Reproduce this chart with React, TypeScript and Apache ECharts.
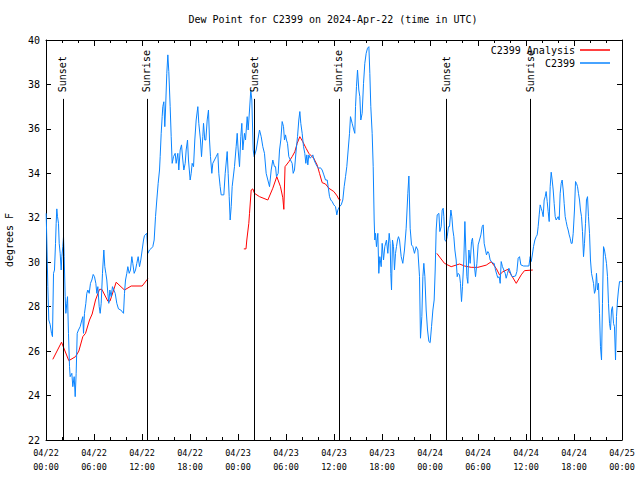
import { useEffect, useRef } from 'react';
import * as echarts from 'echarts';

// hours since 2024-04-22 00:00 UTC, dew point (°F)
const stationC2399: [number, number][] = [
  [0.02,32.2],[0.10,31.0],[0.23,28.9],[0.35,27.4],[0.52,27.2],[0.69,26.8],[0.81,26.65],[0.94,29.5],[1.06,29.65],[1.19,30.85],[1.27,31.75],[1.35,32.4],[1.44,32.05],[1.56,31.75],[1.65,30.85],[1.77,30.4],[1.90,29.65],[1.98,30.25],[2.10,30.7],[2.19,31.15],[2.27,30.25],[2.40,28.45],[2.48,27.7],[2.60,28.15],[2.69,28.45],[2.81,26.8],[2.94,25.3],[3.02,24.85],[3.23,25.0],[3.35,24.4],[3.52,24.85],[3.65,23.95],[3.77,25.0],[3.90,26.8],[4.06,26.95],[4.27,27.1],[4.48,27.4],[4.60,27.55],[4.69,26.8],[4.81,27.7],[4.98,28.15],[5.10,28.6],[5.23,28.75],[5.40,28.6],[5.56,29.05],[5.73,29.2],[5.90,29.45],[6.06,29.35],[6.23,29.05],[6.35,28.6],[6.48,28.9],[6.65,28.0],[6.77,27.7],[6.90,28.15],[7.06,29.5],[7.23,30.55],[7.35,29.8],[7.48,29.5],[7.60,29.2],[7.73,28.6],[7.85,28.15],[7.98,28.75],[8.15,28.45],[8.31,28.9],[8.48,28.75],[8.65,28.6],[8.85,28.15],[9.06,27.9],[9.35,27.85],[9.69,27.7],[9.81,28.6],[9.94,29.2],[10.10,29.5],[10.23,29.8],[10.40,29.5],[10.56,29.65],[10.73,30.25],[10.85,29.95],[11.02,29.5],[11.19,29.65],[11.35,29.95],[11.52,30.25],[11.69,29.8],[11.85,30.1],[12.02,30.55],[12.19,31.0],[12.31,31.2],[12.60,31.3],[12.73,30.4],[12.94,30.55],[13.10,30.6],[13.35,30.7],[13.52,31.0],[13.69,32.05],[13.85,32.8],[14.02,33.55],[14.19,34.15],[14.27,34.75],
  [14.4,35.8],[14.52,36.55],[14.6,37.0],[14.73,37.22],[14.85,36.1],[14.94,36.85],[15.1,38.5],[15.23,39.33],[15.35,38.58],[15.52,37.0],[15.65,35.65],[15.77,34.45],[15.94,34.75],[16.15,34.9],[16.27,34.45],[16.48,34.9],[16.6,34.15],[16.77,35.05],[16.94,35.28],[17.1,34.6],[17.23,34.15],[17.4,34.45],[17.52,35.05],[17.69,35.5],[17.81,34.6],[18.02,33.7],[18.15,34.0],[18.27,34.45],[18.44,34.3],[18.6,35.5],[18.77,36.4],[18.98,37.0],[19.1,36.25],[19.31,35.5],[19.44,34.75],[19.6,35.65],[19.69,36.25],[19.85,35.5],[19.98,35.5],[20.15,36.4],[20.31,36.85],[20.44,35.5],[20.56,34.75],[20.73,34.0],[20.85,34.45],[21.06,34.6],[21.27,34.75],[21.48,34.9],[21.6,34.0],[21.77,33.4],[21.9,33.03],[22.23,33.03],[22.4,34.0],[22.65,34.98],[22.77,34.0],[22.9,32.95],[23.02,31.9],[23.15,32.5],[23.27,33.4],[23.56,34.3],[23.77,35.2],[23.9,35.8],[24.02,35.05],[24.19,34.3],[24.35,35.65],[24.48,36.25],[24.6,35.05],[24.81,35.8],[24.94,35.5],[25.15,36.55],[25.27,35.95],[25.44,36.85],[25.6,37.75],[25.73,37.3],[25.9,35.05],[26.02,34.75],[26.27,35.05],[26.48,35.5],[26.69,35.95],[26.9,35.65],[27.1,35.2],[27.31,34.9],[27.52,34.0],[27.73,33.7],[27.94,33.4],[28.15,34.15],[28.35,34.6],[28.56,34.3],
  [28.69,34.3],[28.81,33.85],[29.02,34.0],[29.19,35.05],[29.35,35.5],[29.52,36.33],[29.69,36.1],[29.81,35.5],[29.94,35.73],[30.06,35.5],[30.19,35.35],[30.35,34.75],[30.56,34.6],[30.77,34.45],[30.9,34.0],[31.06,34.15],[31.27,35.05],[31.44,35.65],[31.6,36.4],[31.73,36.78],[31.85,36.25],[32.02,35.8],[32.19,35.2],[32.35,34.9],[32.48,34.45],[32.6,34.83],[32.73,34.38],[32.85,34.83],[33.02,34.68],[33.19,34.75],[33.35,34.83],[33.52,34.6],[33.69,34.45],[33.9,34.3],[34.1,34.23],[34.31,34.25],[34.52,34.15],[34.73,33.93],[34.94,33.7],[35.15,33.7],[35.27,33.4],[35.44,32.95],[35.6,32.8],[35.77,32.73],[35.98,32.58],[36.19,32.5],[36.35,32.13],[36.48,32.35],[36.69,32.5],[36.9,32.58],[37.1,32.8],[37.27,33.4],[37.44,33.85],[37.6,34.3],[37.77,35.05],[37.94,35.8],[38.06,36.55],[38.27,36.25],[38.48,35.95],[38.6,35.8],[38.69,37.0],[38.81,37.9],[38.94,38.65],[39.1,37.75],[39.23,37.45],[39.35,36.4],[39.52,36.7],[39.69,38.05],[39.85,38.95],[40.02,39.4],[40.19,39.63],[40.36,39.7],[40.48,38.5],[40.6,37.0],[40.77,35.8],[40.9,34.3],[41.02,31.9],[41.1,31.0],[41.19,31.3],[41.31,30.7],[41.48,31.3],[41.6,29.5],[41.73,30.25],[41.9,29.8],[42.02,30.85],[42.19,30.1],[42.35,30.7],[42.56,31.0],[42.73,30.4],[42.9,31.3],[43.02,30.85],[43.1,29.5],[43.19,28.75],[43.31,31.0],[43.44,30.7],[43.56,29.65],[43.69,30.4],[43.81,30.7],[43.94,31.0],[44.06,31.15],
  [44.19,31.0],[44.4,30.25],[44.6,29.95],[44.81,30.55],[45.02,31.53],[45.23,33.1],[45.36,33.88],[45.52,31.53],[45.69,30.78],[45.86,30.7],[46.06,30.4],[46.27,30.7],[46.48,30.55],[46.69,29.35],[46.81,26.58],[46.98,27.55],[47.11,29.35],[47.23,29.95],[47.36,29.35],[47.52,27.85],[47.69,26.95],[47.86,26.43],[48.02,26.38],[48.19,27.1],[48.36,27.85],[48.52,28.3],[48.65,29.65],[48.77,31.45],[48.9,32.13],[49.11,32.2],[49.23,31.38],[49.4,31.6],[49.52,32.35],[49.65,32.43],[49.73,32.05],[49.86,31.0],[50.02,30.93],[50.15,31.15],[50.31,31.6],[50.44,31.6],[50.61,32.35],[50.73,32.05],[50.86,31.45],[50.98,31.15],[51.11,30.55],[51.27,30.1],[51.4,29.35],[51.52,29.5],[51.69,29.43],[51.81,29.05],[51.94,28.23],[52.06,28.9],[52.23,30.1],[52.36,31.83],[52.48,30.55],[52.61,29.35],[52.73,29.05],[52.86,30.55],[53.02,29.95],[53.19,30.93],[53.31,31.08],[53.44,30.55],[53.56,29.8],[53.69,29.35],[53.86,29.95],[54.02,30.78],[54.19,31.0],[54.36,31.23],[54.52,31.6],[54.65,31.68],[54.77,30.85],[54.94,30.55],[55.06,30.33],[55.23,30.48],[55.36,30.4],[55.52,30.1],[55.69,30.03],[55.86,29.95],[56.02,29.95],[56.19,29.65],[56.36,29.43],[56.48,29.3],[56.65,29.35],[56.77,29.05],[56.9,30.03],[57.06,29.8],[57.23,29.65],[57.4,29.5],[57.52,29.28],[57.69,29.5],[57.86,29.73],[58.02,29.58],[58.19,29.38],[58.36,29.35],[58.69,29.38],[58.86,29.58],[59.02,30.18],[59.19,30.25],[59.36,29.88],[59.69,29.83],[60.02,29.83],[60.36,29.83],[60.52,30.25],[60.65,30.03],[60.77,30.28],[60.94,30.7],[61.11,31.0],[61.27,31.15],[61.4,31.23],[61.52,31.6],[61.65,32.13],[61.77,32.58],[61.9,32.43],[62.02,32.28],[62.15,32.05],[62.27,32.8],[62.4,32.95],[62.52,33.18],[62.65,32.73],[62.77,32.28],[62.9,31.83],[63.02,33.4],[63.15,34.05],[63.27,33.7],[63.4,33.25],[63.52,32.65],[63.65,32.05],[63.77,31.9],[64.02,32.05],[64.15,31.9],[64.27,33.1],[64.4,33.55],[64.52,33.7],[64.65,33.25],[64.77,32.65],[64.9,32.05],[65.02,31.83],[65.15,31.6],[65.27,31.45],[65.4,31.23],[65.52,31.08],[65.65,30.85],[65.77,30.85],[65.9,31.3],[66.06,32.35],[66.19,33.63],[66.31,33.55],[66.44,33.4],[66.56,33.1],[66.69,32.8],[66.81,32.35],[66.94,32.05],[67.06,31.38],[67.19,30.25],[67.31,30.85],[67.44,31.75],[67.56,32.8],[67.69,32.95],[67.81,32.05],[67.94,31.3],[68.06,30.1],[68.19,29.5],[68.44,29.05],[68.56,28.6],[68.69,28.75],[68.81,29.5],[68.94,28.75],[69.06,29.05],[69.19,27.7],[69.31,26.2],[69.44,25.6],[69.56,28.15],[69.69,30.7],[69.81,30.55],[69.94,30.25],[70.06,29.95],[70.19,29.35],[70.31,28.15],[70.44,27.25],[70.56,26.95],[70.69,27.85],[70.81,28.0],[70.94,27.25],[71.06,27.1],[71.19,25.6],[71.31,27.55],[71.44,28.3],[71.56,28.75],[71.69,29.13],[71.81,29.13],[72,29.13]
];

const analysisDay1: [number, number][] = [
  [0.85,25.63],[1.94,26.4],[2.85,25.57],[3.69,25.75],[4.1,26.0],[4.6,26.65],[4.94,26.8],[5.44,27.4],[5.77,27.67],[6.19,28.3],[6.69,28.78],[6.98,28.78],[7.73,28.25],[8.0,28.25],[8.77,29.1],[9.81,28.75],[10.65,28.93],[12.02,28.93],[12.73,29.26]
];
const analysisDay2: [number, number][] = [
  [24.73,30.6],[25.0,30.6],[25.1,31.0],[25.35,31.75],[25.44,32.2],[25.65,33.25],[25.85,33.3],[26.06,33.1],[26.69,32.95],[27.73,32.8],[28.35,33.33],[28.85,33.85],[29.31,33.4],[29.6,32.9],[29.73,32.38],[29.88,34.3],[30.35,34.52],[30.77,34.75],[31.1,34.97],[31.4,35.35],[31.73,35.65],[32.1,35.42],[32.52,35.12],[32.85,34.9],[33.48,34.67],[33.9,34.37],[34.19,34.0],[34.52,33.58],[34.94,33.52],[35.35,33.33],[35.98,33.18],[36.4,32.98],[36.6,32.83],[36.85,32.8]
];
const analysisDay3: [number, number][] = [
  [48.85,30.4],[49.81,29.95],[50.65,29.8],[51.69,29.92],[52.31,29.83],[53.15,29.77],[53.98,29.77],[55.03,29.87],[55.65,30.02],[56.28,29.72],[56.69,29.43],[57.1,29.57],[57.73,29.68],[58.15,29.43],[58.78,29.05],[59.4,29.43],[59.81,29.62],[60.85,29.65]
];

const sunHours = [2.1, 12.6, 26.0, 36.6, 50.0, 60.5];
const sunLabels = ['Sunset', 'Sunrise', 'Sunset', 'Sunrise', 'Sunset', 'Sunrise'];

const yTicks = { min: 22, max: 40, interval: 2 };
const xTicks = { min: 0, max: 72, interval: 6 };

const FONT = '"DejaVu Sans Mono", monospace';

function fmtX(v: number): string {
  const day = 22 + Math.floor(v / 24);
  const hr = Math.round(v % 24);
  return `04/${day}\n${String(hr).padStart(2, '0')}:00`;
}

export default function App() {
  const ref = useRef<HTMLDivElement>(null);
  useEffect(() => {
    if (!ref.current) return;
    const chart = echarts.init(ref.current, null, { renderer: 'svg' });
    const analysis: any[] = [
      ...analysisDay1, [18, null], ...analysisDay2, [42, null], ...analysisDay3,
    ];
    const axisCommon = {
      axisLine: { show: true, onZero: false, lineStyle: { color: '#000', width: 1 } },
      splitLine: { show: false },
    };
    chart.setOption({
      animation: false,
      backgroundColor: '#fff',
      title: {
        text: 'Dew Point for C2399 on 2024-Apr-22 (time in UTC)',
        left: 333, top: 14, textAlign: 'center', padding: 0,
        textStyle: { fontFamily: FONT, fontSize: 10, fontWeight: 'normal', color: '#000' },
      },
      legend: {
        orient: 'vertical', right: 30, top: 44, align: 'right', padding: 0,
        icon: 'rect', itemWidth: 30, itemHeight: 1.5, itemGap: 1,
        textStyle: { fontFamily: FONT, fontSize: 10, color: '#000', lineHeight: 12 },
        data: ['C2399 Analysis', 'C2399'],
      },
      grid: { left: 46, right: 18, top: 40, bottom: 40, containLabel: false, outerBoundsMode: 'none' },
      xAxis: [
        {
          type: 'value', ...xTicks, position: 'bottom', ...axisCommon,
          axisTick: { show: true, inside: true, length: 6, lineStyle: { color: '#000' } },
          minorTick: { show: true, splitNumber: 3, length: 3, lineStyle: { color: '#000' } },
          axisLabel: { formatter: fmtX, fontFamily: FONT, fontSize: 8.5, color: '#000', lineHeight: 14, margin: 6 },
        },
        {
          type: 'value', ...xTicks, position: 'top', ...axisCommon,
          axisTick: { show: true, inside: true, length: 6, lineStyle: { color: '#000' } },
          minorTick: { show: true, splitNumber: 3, length: 3, lineStyle: { color: '#000' } },
          axisLabel: { show: false },
        },
      ],
      yAxis: [
        {
          type: 'value', ...yTicks, position: 'left', ...axisCommon,
          name: 'degrees F', nameLocation: 'middle', nameGap: 32,
          nameTextStyle: { fontFamily: FONT, fontSize: 10, color: '#000' },
          axisTick: { show: true, inside: true, length: 5, lineStyle: { color: '#000' } },
          axisLabel: { fontFamily: FONT, fontSize: 10, color: '#000', margin: 6 },
        },
        {
          type: 'value', ...yTicks, position: 'right', ...axisCommon,
          axisTick: { show: true, inside: true, length: 5, lineStyle: { color: '#000' } },
          axisLabel: { show: false },
        },
      ],
      series: [
        {
          name: 'C2399 Analysis', type: 'line', data: analysis, connectNulls: false,
          showSymbol: false, symbol: 'none', color: '#ff0000',
          lineStyle: { color: '#ff0000', width: 1 }, z: 2,
        },
        {
          name: 'C2399', type: 'line', data: stationC2399,
          showSymbol: false, symbol: 'none', color: '#0a84ff',
          lineStyle: { color: '#0a84ff', width: 1 }, z: 3,
          markLine: {
            silent: true, symbol: ['none', 'none'], animation: false,
            lineStyle: { color: '#000', width: 1, type: 'solid' },
            label: { show: false },
            data: sunHours.map((h) => [{ coord: [h, 22] }, { coord: [h, 37.35] }]),
          },
          markPoint: {
            silent: true, symbol: 'rect', symbolSize: 1,
            itemStyle: { color: 'rgba(0,0,0,0)' },
            label: {
              show: true, position: 'inside', rotate: 90, align: 'left', verticalAlign: 'middle',
              formatter: (p: any) => p.name, fontFamily: FONT, fontSize: 10, color: '#000',
            },
            data: sunHours.map((h, i) => ({ name: sunLabels[i], coord: [h, 37.65] })),
          },
        },
      ],
    });
    return () => chart.dispose();
  }, []);
  return <div ref={ref} style={{ width: 640, height: 480, position: 'absolute', left: 0, top: 0 }} />;
}
